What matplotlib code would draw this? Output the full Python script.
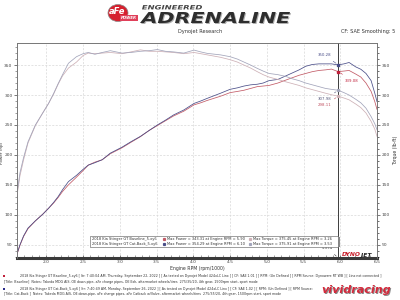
import numpy as np
import matplotlib.pyplot as plt
from matplotlib.patches import Rectangle, Ellipse, PathPatch
from matplotlib.textpath import TextPath
from matplotlib.font_manager import FontProperties
from matplotlib.transforms import Affine2D

# engine rpm (x1000) sample points
rpm = [1.60, 1.64, 1.69, 1.75, 1.85, 1.95, 2.03, 2.10, 2.16, 2.22, 2.30, 2.41, 2.50, 2.57,
       2.66, 2.76, 2.87, 2.95, 3.03, 3.15, 3.28, 3.40, 3.51, 3.62, 3.73, 3.87, 4.01, 4.10,
       4.19, 4.37, 4.50, 4.60, 4.69, 4.78, 4.87, 4.95, 5.03, 5.15, 5.26, 5.35, 5.44, 5.53,
       5.62, 5.71, 5.80, 5.88, 5.97, 6.05, 6.12, 6.21, 6.28, 6.35, 6.42, 6.47, 6.50]

# power (hp)
power_base = [34, 49, 64, 77, 90, 101, 111, 120, 129, 139, 150, 163, 174, 183,
              188, 192, 202, 207, 212, 221, 230.5, 241, 249, 257, 265, 273, 283.6, 287,
              291, 298, 304, 306, 308, 311, 314, 315, 316, 320, 325, 329, 333, 336,
              339, 341, 342, 343.3, 339.1, 340, 341, 335, 330, 320, 306, 289, 276]
power_cat = [35, 50, 65, 78, 90, 101, 111, 121, 130.5, 142, 155.5, 166, 176, 183,
             187, 192, 203, 208, 213, 222, 231, 241, 250, 258, 266.7, 275, 286, 290,
             294.5, 303, 309.5, 312, 315, 317, 318, 320, 324, 326, 332, 337, 342, 348,
             351, 352, 352, 352, 350.3, 352, 354.3, 347, 343, 336, 324, 303, 289]

# torque (lb-ft)
torque_base = [132, 165, 192, 220, 249, 270, 286, 302, 318, 332, 345, 355, 366, 370,
               369, 370, 371, 370, 369, 372, 375.4, 373, 373, 372, 371, 369, 371, 369,
               367, 363, 359, 355, 350, 345, 339, 334, 330, 326, 322, 319, 316, 312,
               309, 306, 303, 300.5, 298.1, 295, 292, 285, 279, 270, 256, 243, 231]
torque_cat = [136, 170, 196, 222, 250, 270, 286, 303, 319, 334, 353, 364, 369, 371,
              368, 371, 374, 372, 370, 371, 373, 374, 375.9, 373, 372, 370, 375, 372,
              369.5, 367, 364, 360, 355, 350, 344.5, 340, 336, 334, 331, 327, 324, 320,
              317, 314, 311, 309.5, 308, 304, 300, 293, 287, 278, 264, 252, 242]

cursor_rpm = 5.974
cursor_vals = {"cat_p": 350.28, "base_p": 339.08, "cat_t": 307.98, "base_t": 298.11}

runs = ["2018 Kia Stinger GT Baseline_5.xy6", "2018 Kia Stinger GT Cat-Back_5.xy6"]
max_power = ["Max Power = 343.31 at Engine RPM = 5.90", "Max Power = 354.29 at Engine RPM = 6.10"]
max_torque = ["Max Torque = 375.45 at Engine RPM = 3.26", "Max Torque = 375.91 at Engine RPM = 3.53"]

footer = [
    "2018 Kia Stinger GT Baseline_5.xy6 [ Itr: 7:40:04 AM, Thursday, September 22, 2022 ] [ As tested on Dynojet Model 424xLC Linx ] [ CF: SAE 1.01 ] [ RPM: (Un Defined ] [ RPM Source: Dynoware RT WB ] [ Linx not connected ]",
    "[Title: Baseline]  Notes: Takeda MDG AIS, OE down-pipe, aFe charge pipes, OE Exh, aftermarket wheels/tires  275/35/20, 4th gear, 1500rpm start, sport mode",
    "2018 Kia Stinger GT Cat-Back_5.xy6 [ Itr: 7:40:49 AM, Monday, September 26, 2022 ] [ As tested on Dynojet Model 424xLC Linx ] [ CF: SAE 1.02 ] [ RPM: (Un Defined ] [ RPM Source:",
    "[Title: Cat-Back ]  Notes: Takeda MDG AIS, OE down-pipe, aFe charge pipes, aFe Catback w/Valve, aftermarket wheels/tires  275/35/20, 4th gear, 1500rpm start, sport mode",
]

c_base_p = '#c25a66'
c_cat_p = '#4a4e88'
c_base_t = '#cdb0b6'
c_cat_t = '#a2a4ba'

W, H = 400, 300
def fx(x):
    return x / W
def fy(y):
    return 1 - y / H

def stretched_text(fig, s, x0, y0, x1, y1, color, **fp):
    # draw text stretched into a pixel box (x0,y0)-(x1,y1), top-left origin
    tp = TextPath((0, 0), s, size=1, prop=FontProperties(**fp))
    bb = tp.get_extents()
    sx = (x1 - x0) / bb.width
    sy = (y1 - y0) / bb.height
    tr = Affine2D().translate(-bb.x0, -bb.y0).scale(sx / W, sy / H).translate(fx(x0), fy(y1))
    fig.add_artist(PathPatch(tp, transform=tr + fig.transFigure, facecolor=color,
                             edgecolor='none'))

fig = plt.figure(figsize=(4, 3), dpi=100)
fig.patch.set_facecolor('white')
ax = fig.add_axes([0.0425, 0.14, 0.9, 0.717])
ax2 = ax.twinx()

ax.set_xlim(1.6, 6.5)
ax.set_ylim(28, 387)
ax2.set_ylim(28, 387)

ax.plot(rpm, power_base, color=c_base_p, lw=0.55, zorder=3)
ax.plot(rpm, power_cat, color=c_cat_p, lw=0.55, zorder=3)
ax2.plot(rpm, torque_base, color=c_base_t, lw=0.55)
ax2.plot(rpm, torque_cat, color=c_cat_t, lw=0.55)

# grid
ax.set_xticks(np.arange(2.0, 6.51, 0.5))
ax.set_xticks(np.arange(1.6, 6.51, 0.1), minor=True)
ax.set_yticks(np.arange(50, 351, 50))
ax.set_yticks(np.arange(30, 387, 10), minor=True)
ax2.set_yticks(np.arange(50, 351, 50))
ax2.set_yticks(np.arange(30, 387, 10), minor=True)
ax.grid(True, which='major', color='#d8d8d8', lw=0.5, ls=(0, (3, 2)))
ax.set_axisbelow(True)

ax.tick_params(axis='both', which='major', labelsize=3.2, length=2, width=0.5,
               colors='#444444', pad=1.2)
ax.tick_params(axis='both', which='minor', length=1.5, width=0.4, colors='#555555')
ax.tick_params(axis='x', which='both', direction='in', length=2.5)
ax2.tick_params(axis='y', which='major', labelsize=3.2, length=2, width=0.5,
                colors='#444444', pad=1.5)
ax2.tick_params(axis='y', which='minor', length=1.5, width=0.4)

for s in ['left', 'right', 'top']:
    ax.spines[s].set_color('#777777')
    ax.spines[s].set_linewidth(0.6)
    ax2.spines[s].set_color('#777777')
    ax2.spines[s].set_linewidth(0.6)
ax.spines['bottom'].set_color('#3a3a3a')
ax.spines['bottom'].set_linewidth(2.2)
ax2.spines['bottom'].set_visible(False)

ax.set_xlabel('Engine RPM (rpm/1000)', fontsize=3.3, color='#333333', labelpad=2)
fig.text(fx(2.5), fy(153), 'Power (hp)', fontsize=3.0, color='#333333', rotation=90,
         ha='center', va='center')
ax2.set_ylabel('Torque (lb-ft)', fontsize=3.3, color='#333333', labelpad=2)

# cursor
ax.axvline(cursor_rpm, color='#3c3c3c', lw=0.7, zorder=4)
ax.plot([cursor_rpm], [cursor_vals["cat_p"]], 's', ms=1.6, color=c_cat_p, zorder=5)
ax.plot([cursor_rpm], [cursor_vals["base_p"]], 's', ms=1.6, color='#c0203a', zorder=5)
ax.plot([cursor_rpm], [cursor_vals["cat_t"]], 's', ms=1.3, color=c_cat_t, zorder=5)
ax.plot([cursor_rpm], [cursor_vals["base_t"]], 's', ms=1.3, color=c_base_t, zorder=5)

ap = dict(arrowstyle='-', lw=0.4)
ax.annotate('%.2f' % cursor_vals["cat_p"], xy=(cursor_rpm, cursor_vals["cat_p"]),
            xytext=(5.78, 367), fontsize=2.8, color=c_cat_p, ha='center', va='center',
            arrowprops=dict(ap, color=c_cat_p))
ax.annotate('%.2f' % cursor_vals["base_p"], xy=(cursor_rpm, cursor_vals["base_p"]),
            xytext=(6.16, 324), fontsize=2.8, color='#c0203a', ha='center', va='center',
            arrowprops=dict(ap, color='#c0203a'))
ax.annotate('%.2f' % cursor_vals["cat_t"], xy=(cursor_rpm, cursor_vals["cat_t"]),
            xytext=(5.79, 293), fontsize=2.8, color='#55577a', ha='center', va='center',
            arrowprops=dict(ap, color='#55577a'))
ax.annotate('%.2f' % cursor_vals["base_t"], xy=(cursor_rpm, cursor_vals["base_t"]),
            xytext=(5.79, 283), fontsize=2.8, color='#c05060', ha='center', va='center',
            arrowprops=dict(ap, color='#c05060'))
ax.annotate('%.3f' % cursor_rpm, xy=(cursor_rpm, 28), xytext=(5.82, 45),
            fontsize=2.8, color='#333333', ha='center', va='center',
            arrowprops=dict(ap, color='#333333'))

# legend box
ax.add_patch(Rectangle((0.207, 0.049), 0.689, 0.05, transform=ax.transAxes,
                       facecolor='#888888', edgecolor='none', zorder=6))
ax.add_patch(Rectangle((0.203, 0.053), 0.689, 0.05, transform=ax.transAxes,
                       facecolor='white', edgecolor='#555555', lw=0.4, zorder=7))
sq_cols = [(c_base_p, c_base_t), (c_cat_p, c_cat_t)]
for i in range(2):
    yy = 0.090 - i * 0.025
    ax.text(0.208, yy, runs[i], transform=ax.transAxes, fontsize=2.6,
            color='#333333', va='center', zorder=8)
    ax.plot([0.408], [yy], 's', ms=1.3, color=sq_cols[i][0], transform=ax.transAxes, zorder=8)
    ax.text(0.416, yy, max_power[i], transform=ax.transAxes, fontsize=2.6,
            color='#333333', va='center', zorder=8)
    ax.plot([0.648], [yy], 's', ms=1.3, color=sq_cols[i][1], transform=ax.transAxes, zorder=8)
    ax.text(0.656, yy, max_torque[i], transform=ax.transAxes, fontsize=2.6,
            color='#333333', va='center', zorder=8)

# header
fig.add_artist(Ellipse((fx(118), fy(13)), 20 / W, 17 / H, transform=fig.transFigure,
                       facecolor='#d6202e', edgecolor='#8a8a8a', lw=0.5))
fig.text(fx(117), fy(12), 'aFe', fontsize=6, color='white', weight='bold',
         ha='center', va='center', style='italic')
fig.text(fx(129), fy(18), 'POWER', fontsize=2.8, color='white', weight='bold', ha='center',
         va='center', style='italic',
         bbox=dict(boxstyle='square,pad=0.15', fc='#e0405a', ec='none'))
stretched_text(fig, 'ENGINEERED', 142, 5, 202, 9.5, '#444444', weight='bold', style='italic')
stretched_text(fig, 'ADRENALINE', 141, 13, 291, 24, '#b0b0b0', weight='heavy', style='italic')
stretched_text(fig, 'ADRENALINE', 140, 12, 290, 23, '#2e2e2e', weight='heavy', style='italic')
fig.text(0.5, fy(32), 'Dynojet Research', fontsize=3.6, color='#333333',
         ha='center', va='center')
fig.text(fx(395), fy(32), 'CF: SAE Smoothing: 5', fontsize=3.6, color='#333333',
         ha='right', va='center')

# dynojet mark
fig.text(fx(342), fy(255), 'DYNO', fontsize=4.3, color='#c8202c', weight='bold',
         style='italic', ha='left', va='center')
fig.text(fx(361), fy(255), 'JET', fontsize=4.3, color='#222222', weight='bold',
         style='italic', ha='left', va='center')

# footer
fig.add_artist(Rectangle((fx(3), fy(277)), 2 / W, 2 / H, transform=fig.transFigure,
                         facecolor='#c0203a', edgecolor='none'))
fig.add_artist(Rectangle((fx(3), fy(290)), 2 / W, 2 / H, transform=fig.transFigure,
                         facecolor='#2a2a8a', edgecolor='none'))
fig.text(fx(20), fy(276.5), footer[0], fontsize=2.35, color='#333333', va='center')
fig.text(fx(4), fy(282.5), footer[1], fontsize=2.35, color='#333333', va='center')
fig.text(fx(20), fy(289), footer[2], fontsize=2.35, color='#333333', va='center')
fig.text(fx(4), fy(294.5), footer[3], fontsize=2.35, color='#333333', va='center')

fig.text(fx(321) + 0.003, fy(290) - 0.004, 'vividracing', fontsize=8, color='#8a8a8a',
         weight='bold', style='italic', ha='left', va='center')
fig.text(fx(321), fy(290), 'vividracing', fontsize=8, color='#d42a3c',
         weight='bold', style='italic', ha='left', va='center')

fig.savefig('out.png', dpi=100)
